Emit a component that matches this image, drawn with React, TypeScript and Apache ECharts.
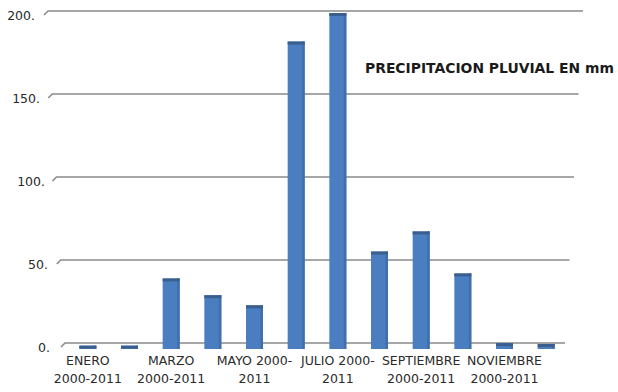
import React, { useEffect, useRef } from "react";
import * as echarts from "echarts";

// Monthly rainfall averages, 2000-2011 (mm)
const months = [
  "ENERO", "FEBRERO", "MARZO", "ABRIL", "MAYO", "JUNIO",
  "JULIO", "AGOSTO", "SEPTIEMBRE", "OCTUBRE", "NOVIEMBRE", "DICIEMBRE",
];
const monthLabels = [
  "ENERO\n2000-2011", "FEBRERO\n2000-2011", "MARZO\n2000-2011", "ABRIL\n2000-2011",
  "MAYO 2000-\n2011", "JUNIO 2000-\n2011", "JULIO 2000-\n2011", "AGOSTO\n2000-2011",
  "SEPTIEMBRE\n2000-2011", "OCTUBRE\n2000-2011", "NOVIEMBRE\n2000-2011", "DICIEMBRE\n2000-2011",
];
const rainfall = [2, 2, 42, 32, 26, 183, 200, 58, 70, 45, 3.5, 3];
const yTicks = [0, 50, 100, 150, 200];

const FONT = "'DejaVu Sans', 'Open Sans', sans-serif";

export default function App() {
  const ref = useRef<HTMLDivElement>(null);

  useEffect(() => {
    if (!ref.current) return;
    document.body.style.margin = "0";
    const chart = echarts.init(ref.current, undefined, { renderer: "svg" });

    // labels step inward toward the floor, like a receding back wall
    const labelPad: Record<number, number> = { 0: 0, 50: 2, 100: 5, 150: 10, 200: 15 };
    const rich: Record<string, any> = {};
    yTicks.forEach((t) => {
      rich["t" + t] = {
        fontFamily: FONT,
        fontSize: 12.5,
        color: "#2a2a2a",
        padding: [9, labelPad[t], 0, 0],
      };
    });

    chart.setOption({
      animation: false,
      backgroundColor: "#ffffff",
      title: {
        text: "PRECIPITACION PLUVIAL EN mm",
        left: 365,
        top: 61,
        padding: 0,
        textStyle: { fontFamily: FONT, fontSize: 13.9, fontWeight: "bold", color: "#1a1a1a" },
      },
      grid: [
        // bars (front plane)
        { left: 67, right: 51, top: 13, bottom: 43 },
        // gridlines (back wall)
        { left: 48, right: 35, top: 11, bottom: 49 },
      ],
      xAxis: [
        {
          type: "category",
          gridIndex: 0,
          data: months,
          axisLine: { show: false },
          axisTick: { show: false },
          axisLabel: {
            interval: 1,
            margin: 2,
            fontFamily: FONT,
            fontSize: 12.5,
            lineHeight: 18,
            color: "#2a2a2a",
            formatter: (_v: string, i: number) => monthLabels[i],
          },
        },
        {
          type: "value",
          gridIndex: 1,
          min: 0,
          max: 1,
          show: false,
        },
      ],
      yAxis: [
        {
          type: "value",
          gridIndex: 0,
          min: 0,
          max: 200,
          interval: 50,
          show: false,
        },
        {
          type: "value",
          gridIndex: 1,
          min: 0,
          max: 200,
          interval: 50,
          axisLine: { show: false },
          axisTick: { show: false },
          splitLine: { show: false },
          axisLabel: {
            margin: -2,
            rich,
            formatter: (v: number) => `{t${v}|${v}.}`,
          },
        },
      ],
      series: [
        {
          // back-wall gridlines with a short slanted floor edge at the left
          type: "custom",
          xAxisIndex: 1,
          yAxisIndex: 1,
          silent: true,
          data: yTicks.map((t) => [0, t]),
          renderItem: (_params: any, api: any) => {
            const t = api.value(1);
            const l = api.coord([0, t]);
            const r = api.coord([1, t]);
            const depth = (200 - t) / 200;
            const xl = l[0] + depth * 17;
            const xr = r[0] - depth * 18;
            const y = l[1];
            return {
              type: "polyline",
              shape: { points: [[xl - 4, y + 4], [xl, y], [xr, y]] },
              style: { stroke: "#8a8a8a", lineWidth: 1.6, fill: "none" },
            };
          },
        },
        {
          type: "custom",
          xAxisIndex: 0,
          yAxisIndex: 0,
          data: rainfall.map((v, i) => [i, v]),
          renderItem: (_params: any, api: any) => {
            const idx = api.value(0);
            const val = api.value(1);
            const top = api.coord([idx, val]);
            const base = api.coord([idx, 0]);
            const w = 17;
            const x = top[0] - w / 2;
            const h = Math.max(base[1] - top[1], 0);
            const cap = Math.min(3, Math.max(h, 2));
            return {
              type: "group",
              children: [
                {
                  type: "rect",
                  shape: { x, y: top[1], width: w, height: h },
                  style: { fill: "#4b7ec0" },
                },
                {
                  type: "rect",
                  shape: { x: x + w - 2.5, y: top[1], width: 2.5, height: h },
                  style: { fill: "#416fab" },
                },
                {
                  type: "rect",
                  shape: { x, y: top[1], width: w, height: cap },
                  style: { fill: "#3a5f8e" },
                },
              ],
            };
          },
        },
      ],
    });

    return () => chart.dispose();
  }, []);

  return <div ref={ref} style={{ width: 618, height: 392 }} />;
}
